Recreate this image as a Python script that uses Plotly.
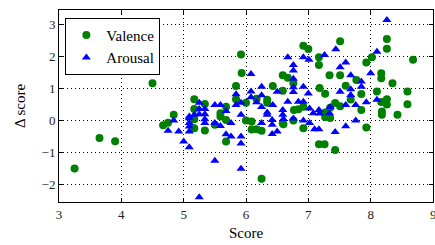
import plotly.graph_objects as go

valence_x = [3.25, 3.65, 3.9, 4.5, 4.67, 4.75, 4.84, 5.17, 5.34, 5.17, 5.17, 5.17, 5.34, 5.5, 5.59, 5.59,
             5.68, 5.68, 5.68, 5.84, 5.84, 5.92, 5.93, 6.0, 6.0, 6.09, 6.09, 6.17, 6.25, 6.25, 6.17, 6.34,
             6.34, 6.43, 6.59, 6.67, 6.76, 6.59, 6.6, 6.59, 6.76, 6.77, 6.84, 6.92, 6.92, 6.92, 7.0, 7.17,
             7.17, 7.18, 7.27, 7.34, 7.51, 7.51, 7.35, 7.27, 7.27, 7.35, 7.43, 7.51, 7.43, 7.17, 7.26, 7.6,
             7.68, 7.77, 7.85, 7.85, 7.93, 7.93, 8.02, 8.1, 8.17, 8.17, 8.17, 8.18, 8.18, 8.26, 8.26, 8.26,
             8.26, 8.35, 8.43, 8.59, 8.59, 8.68]
valence_y = [-1.5, -0.55, -0.65, 1.17, -0.15, -0.07, 0.18, 0.67, 0.52, 0.36, 0.04, -0.24, -0.31, -0.13, 0.23, 0.13,
             0.43, 0.02, -0.66, 1.08, 0.67, 2.07, 1.49, 0.56, 0.0, -0.03, -0.28, -0.27, -0.32, -1.82, 0.68, 0.65,
             0.56, 1.08, 1.42, 1.34, 1.17, 0.93, -0.12, -0.08, 0.0, 0.33, 0.35, 0.43, -0.24, 2.34, 2.24, 1.98,
             1.74, 1.02, 0.84, 1.42, 1.42, 2.48, 0.4, 0.25, 0.11, 0.08, 0.55, 0.45, -0.92, -0.74, -0.74, 1.09,
             0.66, 1.27, 0.83, 0.33, 1.82, -0.22, 1.98, 0.91, 1.48, 1.32, 0.58, 0.28, 0.18, 2.55, 2.25, 0.67,
             0.5, 1.17, 0.18, 0.91, 0.51, 1.9]

arousal_x = [4.75, 4.84, 4.92, 5.0, 5.09, 5.09, 5.09, 5.09, 5.09, 5.09, 5.17, 5.25, 5.25, 5.25, 5.34, 5.34,
             5.34, 5.34, 5.25, 5.5, 5.5, 5.59, 5.5, 5.59, 5.68, 5.68, 5.76, 5.76, 5.84, 5.84, 5.92, 5.92,
             5.92, 5.92, 5.92, 6.08, 6.08, 6.08, 6.17, 6.25, 6.25, 6.25, 6.25, 6.34, 6.34, 6.42, 6.42, 6.42,
             6.43, 6.5, 6.5, 6.59, 6.59, 6.6, 6.67, 6.67, 6.76, 6.76, 6.76, 6.76, 6.76, 6.76, 6.84, 6.92,
             6.92, 6.92, 6.92, 7.0, 7.01, 7.02, 7.02, 7.08, 7.1, 7.17, 7.17, 7.18, 7.26, 7.34, 7.35, 7.43,
             7.44, 7.51, 7.51, 7.6, 7.6, 7.6, 7.68, 7.68, 7.68, 7.76, 7.76, 7.85, 7.85, 7.93, 8.0, 8.1,
             8.1, 8.26]
arousal_y = [-0.32, 0.0, -0.34, -0.66, -0.84, -0.34, -0.19, -0.08, 0.07, 0.13, 0.18, 0.56, 0.36, 0.2, 0.36, 0.2,
             0.04, -0.08, -2.4, -1.26, 0.49, 0.49, -0.08, -0.17, 0.3, -0.43, -0.5, -0.08, 0.82, 0.49, 0.56, 0.18,
             -0.5, -0.72, -1.51, 1.46, 0.91, 0.73, 0.57, 1.06, 0.79, 0.42, -0.08, 0.25, 0.18, 0.02, -0.13, -0.42,
             0.49, 0.9, -0.34, 0.33, 0.18, 0.05, 1.98, 0.59, 1.74, 1.57, 1.31, 1.04, 0.89, 0.06, 0.59, 1.98,
             1.06, 0.59, 0.0, 0.85, 1.9, 0.38, -0.08, 0.23, -0.27, -0.27, 0.33, 0.22, 2.05, 0.23, 0.42, -0.36,
             2.23, 1.67, 0.9, 1.82, 0.49, -0.18, 1.42, 0.98, 0.8, 0.49, 0.0, 1.22, 1.06, 0.57, 1.48, 2.15,
             0.65, 3.15]

x_ticks = [3, 4, 5, 6, 7, 8, 9]
y_ticks = [-2, -1, 0, 1, 2, 3]

FONT = "Liberation Serif"

fig = go.Figure()
fig.add_trace(go.Scatter(x=valence_x, y=valence_y, mode="markers", name="Valence",
                         marker=dict(symbol="circle", size=8, color="#008000", line=dict(width=0))))
fig.add_trace(go.Scatter(x=arousal_x, y=arousal_y, mode="markers", name="Arousal",
                         marker=dict(symbol="triangle-up", size=8, color="#0000ff", line=dict(width=0))))

axis_common = dict(showline=True, linecolor="black", linewidth=1, mirror="allticks",
                   ticks="inside", ticklen=4, tickcolor="black", showgrid=True,
                   gridcolor="black", gridwidth=1, griddash="1px,3px", zeroline=False,
                   automargin=False,
                   tickfont=dict(family=FONT, size=13, color="#222"))

fig.update_layout(
    width=435, height=245,
    margin=dict(l=59, r=2, t=10, b=43, autoexpand=False),
    paper_bgcolor="white", plot_bgcolor="white",
    font=dict(family=FONT, size=13, color="black"),
    showlegend=True,
    legend=dict(x=0.017, y=0.96, xanchor="left", yanchor="top",
                bordercolor="black", borderwidth=1, bgcolor="white",
                font=dict(family=FONT, size=15), itemwidth=30,
                tracegroupgap=0),
    xaxis=dict(range=[3, 9], tickvals=x_ticks,
               title=dict(text="Score", font=dict(family=FONT, size=15), standoff=6), **axis_common),
    yaxis=dict(range=[-2.55, 3.46], tickvals=y_ticks,
               title=dict(text="Δ score", font=dict(family=FONT, size=15), standoff=12), **axis_common),
)

# right-most tick label, which the reference shows clipped at the figure edge
fig.add_annotation(x=x_ticks[-1], y=0, xref="x", yref="paper", text=str(x_ticks[-1]),
                   showarrow=False, yanchor="top", yshift=-3,
                   font=dict(family=FONT, size=13, color="#222"))

fig.write_html("out.html", config={"displayModeBar": False},
               post_script="document.body.style.margin='0';")
